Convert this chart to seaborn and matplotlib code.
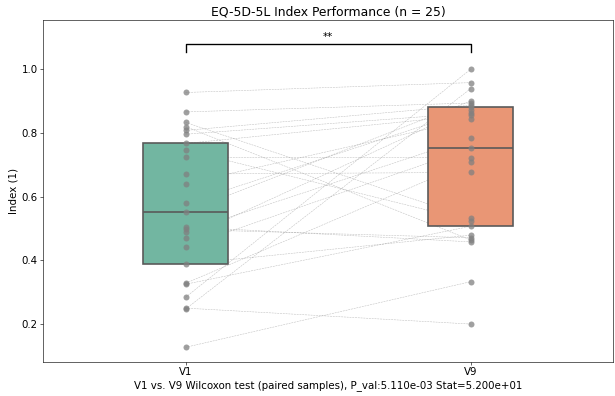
import pandas as pd
import matplotlib
matplotlib.use("Agg")
import matplotlib.pyplot as plt
import seaborn as sns

# paired EQ-5D-5L index values, same patient at the same position
visits = ["V1", "V9"]
v1 = [0.927, 0.866, 0.833, 0.820, 0.808, 0.796, 0.767, 0.746, 0.723, 0.671,
      0.641, 0.579, 0.552, 0.505, 0.497, 0.490, 0.469, 0.443, 0.388, 0.328,
      0.325, 0.284, 0.250, 0.247, 0.127]
v9 = [0.958, 0.894, 0.532, 0.464, 0.887, 0.862, 0.856, 0.524, 0.722, 0.676,
      0.843, 0.871, 0.900, 0.458, 0.471, 0.785, 0.880, 0.752, 0.479, 0.709,
      0.507, 1.000, 0.200, 0.939, 0.333]
stars = "**"
stat_text = "V1 vs. V9 Wilcoxon test (paired samples), P_val:5.110e-03 Stat=5.200e+01"

df = pd.DataFrame({
    "visit": ["V1"] * len(v1) + ["V9"] * len(v9),
    "index": v1 + v9,
})

plt.rcParams["font.size"] = 13.6

fig, ax = plt.subplots(figsize=(615 / 54, 396 / 54), dpi=54)

# dotted lines joining each patient's two visits
for a, b in zip(v1, v9):
    ax.plot([0, 1], [a, b], color="gray", linestyle="--", linewidth=0.7, alpha=0.5, zorder=1)

sns.boxplot(data=df, x="visit", y="index", hue="visit", order=visits, palette="Set2",
            width=0.3, showfliers=False, whis=0, showcaps=False, linewidth=2.2,
            legend=False, ax=ax)
sns.stripplot(data=df, x="visit", y="index", order=visits, color="gray", jitter=False,
              size=8, alpha=0.75, zorder=3, ax=ax)

# significance bracket
y_br, h = 1.078, 0.025
ax.plot([0, 0, 1, 1], [y_br - h, y_br, y_br, y_br - h], color="black", linewidth=1.8)
ax.text(0.5, y_br + 0.006, stars, ha="center", va="bottom", fontsize=13.6)

ax.set_xlim(-0.5, 1.5)
ax.set_ylim(0.081, 1.154)
ax.set_title("EQ-5D-5L Index Performance (n = 25)", fontsize=16.5)
ax.set_xlabel(stat_text)
ax.set_ylabel("Index (1)")

plt.subplots_adjust(left=0.07, right=0.997, top=0.949, bottom=0.086)
plt.savefig("out.png", dpi=54)
